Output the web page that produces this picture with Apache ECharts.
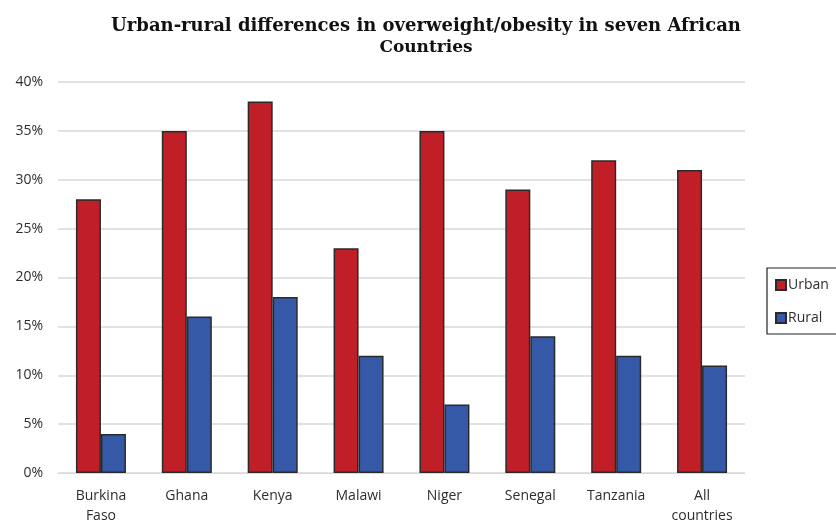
<!DOCTYPE html>
<html>
<head>
<meta charset="utf-8">
<script src="https://cdn.jsdelivr.net/npm/echarts@6/dist/echarts.min.js"></script>
<style>
  html, body { margin: 0; padding: 0; background: #ffffff; overflow: hidden; }
  #chart { width: 836px; height: 526px; }
</style>
</head>
<body>
<div id="chart"></div>
<script>
// Share of adults overweight/obese, by residence
const countries = ['Burkina\nFaso', 'Ghana', 'Kenya', 'Malawi', 'Niger', 'Senegal', 'Tanzania', 'All\ncountries'];
const urban = [28, 35, 38, 23, 35, 29, 32, 31];
const rural = [4, 16, 18, 12, 7, 14, 12, 11];
const yTicks = [0, 5, 10, 15, 20, 25, 30, 35, 40];

const chart = echarts.init(document.getElementById('chart'), null, { renderer: 'canvas' });

const labelFont = { fontFamily: '"Open Sans", "Liberation Sans", sans-serif', fontSize: 14, color: '#2e2e2e' };
const titleFont = { fontFamily: '"DejaVu Serif", serif', fontWeight: 'bold', color: '#111111' };

chart.setOption({
  animation: false,
  backgroundColor: '#ffffff',
  title: {
    text: 'Urban-rural differences in overweight/obesity in seven African',
    subtext: 'Countries',
    left: 426,
    top: 15,
    textAlign: 'center',
    itemGap: 1,
    padding: 0,
    textStyle: Object.assign({}, titleFont, { fontSize: 18, lineHeight: 22 }),
    subtextStyle: Object.assign({}, titleFont, { fontSize: 17, lineHeight: 20 })
  },
  legend: {
    orient: 'vertical',
    left: 767,
    top: 268,
    padding: [10, 12, 9, 8],
    itemGap: 19,
    itemWidth: 10,
    itemHeight: 10,
    icon: 'rect',
    borderColor: '#222222',
    borderWidth: 1.2,
    textStyle: Object.assign({}, labelFont, { padding: [0, 0, 0, -3] }),
    data: ['Urban', 'Rural']
  },
  grid: { left: 58, right: 91, top: 82, height: 393, containLabel: false },
  xAxis: {
    type: 'category',
    data: countries,
    axisLine: { show: true, lineStyle: { color: '#d9d9d9', width: 1 } },
    axisTick: { show: false },
    axisLabel: Object.assign({}, labelFont, { margin: 13, lineHeight: 20, interval: 0 })
  },
  yAxis: {
    type: 'value',
    min: yTicks[0],
    max: yTicks[yTicks.length - 1],
    interval: 5,
    axisLine: { show: false },
    axisTick: { show: false },
    splitLine: { lineStyle: { color: '#d9d9d9', width: 1.5 } },
    axisLabel: Object.assign({}, labelFont, { margin: 15, formatter: v => v + '%' })
  },
  series: [
    {
      name: 'Urban',
      type: 'bar',
      data: urban,
      barWidth: 25,
      barGap: '0%',
      itemStyle: { color: '#c01f27', borderColor: '#2a2a2a', borderWidth: 1.5 }
    },
    {
      name: 'Rural',
      type: 'bar',
      data: rural,
      barWidth: 25,
      barGap: '0%',
      itemStyle: { color: '#3559a6', borderColor: '#2a2a2a', borderWidth: 1.5 }
    }
  ]
});
</script>
</body>
</html>
